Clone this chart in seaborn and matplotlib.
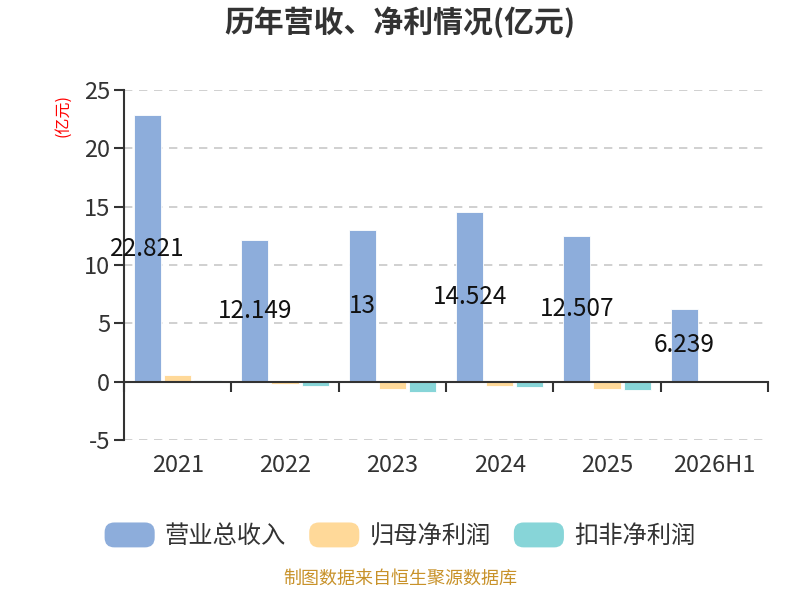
import pandas as pd
import matplotlib
matplotlib.use("Agg")
import matplotlib.pyplot as plt
import matplotlib.transforms as mtransforms
import seaborn as sns
from matplotlib.patches import Patch, FancyBboxPatch
from matplotlib.legend_handler import HandlerPatch

# data
periods = ["2021", "2022", "2023", "2024", "2025", "2026H1"]
revenue = [22.821, 12.149, 13, 14.524, 12.507, 6.239]
net_profit = [0.6, -0.2, -0.6, -0.37, -0.6, 0.05]
net_profit_deducted = [0.1, -0.35, -0.85, -0.5, -0.7, 0.03]
series_names = ["营业总收入", "归母净利润", "扣非净利润"]
colors = ["#8DADDB", "#FFD999", "#87D5D8"]

df = pd.DataFrame({
    "period": periods * 3,
    "value": revenue + net_profit + net_profit_deducted,
    "series": [s for s in series_names for _ in periods],
})

sns.set_theme(style="white")
plt.rcParams["font.family"] = ["Noto Sans CJK SC", "DejaVu Sans"]
plt.rcParams["axes.unicode_minus"] = False

fig = plt.figure(figsize=(8, 6), dpi=100)
ax = fig.add_axes([0.155, 0.2667, 0.805, 0.5833])

sns.barplot(data=df, x="period", y="value", hue="series", palette=colors,
            saturation=1, width=0.84, gap=0.1, edgecolor="white",
            linewidth=0.6, legend=False, ax=ax)

ax.set_ylim(-5, 25)
ax.set_xlim(-0.5, len(periods) - 0.5)
ax.set_yticks([-5, 0, 5, 10, 15, 20, 25])
ax.yaxis.grid(True, linestyle=(0, (5, 4)), color="#c8c8c8", linewidth=1.2)
ax.set_axisbelow(True)

# x axis line at zero with boundary ticks
for side in ["top", "right"]:
    ax.spines[side].set_visible(False)
ax.spines["bottom"].set_position(("data", 0))
ax.spines["bottom"].set_color("#333333")
ax.spines["bottom"].set_linewidth(1.5)
ax.spines["left"].set_color("#333333")
ax.spines["left"].set_linewidth(1.5)
ax.set_xticks([i - 0.5 for i in range(len(periods) + 1)])
ax.set_xticklabels([])
ax.tick_params(axis="x", bottom=True, direction="out", length=7, width=1.5,
               color="#333333")
ax.tick_params(axis="y", left=True, direction="out", length=7, width=1.5,
               color="#333333", labelsize=17, labelcolor="#333333", pad=3)
ax.set_xlabel("")
ax.set_ylabel("")

trans = mtransforms.blended_transform_factory(ax.transData, ax.transAxes)
for i, p in enumerate(periods):
    ax.text(i, -0.04, p, transform=trans, ha="center", va="top",
            fontsize=17, color="#333333")

ax.bar_label(ax.containers[0], labels=[f"{v:g}" for v in revenue],
             label_type="center", fontsize=17.5, color="#111111")

fig.text(0.079, 0.808, "(亿元)", rotation=90, color="red", fontsize=11.5,
         ha="center", va="center")
fig.text(0.5, 0.963, "历年营收、净利情况(亿元)", ha="center", va="center",
         fontsize=21.5, fontweight="bold", color="#333333")


class RoundHandler(HandlerPatch):
    def create_artists(self, legend, orig_handle, xdescent, ydescent,
                       width, height, fontsize, trans):
        box = FancyBboxPatch((-xdescent, -ydescent), width, height,
                             boxstyle="round,pad=0,rounding_size=7",
                             facecolor=orig_handle.get_facecolor(),
                             edgecolor="none", transform=trans)
        return [box]


handles = [Patch(facecolor=c, label=n) for c, n in zip(colors, series_names)]
fig.legend(handles=handles, loc="center", bbox_to_anchor=(0.5, 0.107),
           ncol=3, frameon=False, fontsize=17.5, handlelength=2.06,
           handleheight=1.2, handletextpad=0.42, columnspacing=0.95,
           labelcolor="#333333",
           handler_map={Patch: RoundHandler()})

fig.text(0.5, 0.02, "制图数据来自恒生聚源数据库", ha="center", va="bottom",
         fontsize=13, color="#C8922A")

fig.savefig("out.png", dpi=100)
